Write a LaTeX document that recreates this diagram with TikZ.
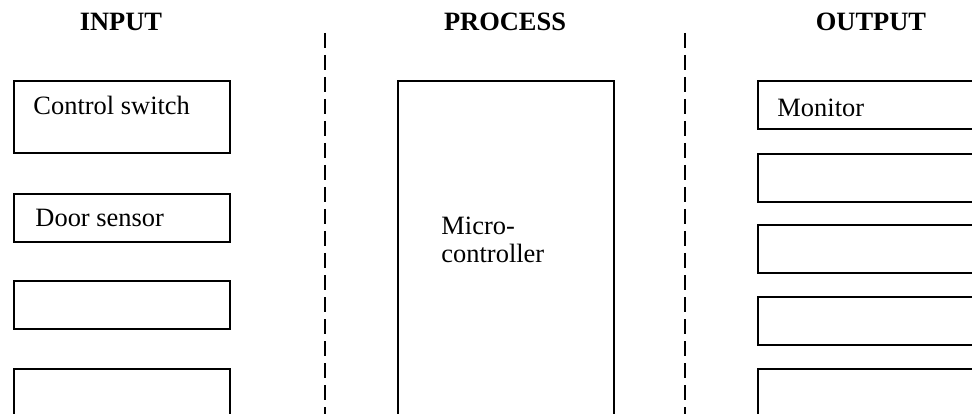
\documentclass[tikz,border=0pt]{standalone}
\usepackage{fontspec}
\setmainfont{Liberation Serif}
\usetikzlibrary{positioning}
\newcommand{\pxu}{0.45pt}
\tikzset{
  blk/.style={draw,line width=0.8pt,inner sep=0pt,anchor=north west},
  lbl/.style={anchor=base west,inner sep=0pt,font=\fontsize{11.9}{12.6}\selectfont},
  head/.style={anchor=base,inner sep=0pt,font=\fontsize{11.9}{12.6}\selectfont\bfseries},
  sepline/.style={line width=1pt,dash pattern=on 6.75pt off 3.15pt}
}
\begin{document}
\begin{tikzpicture}[x=\pxu,y=-\pxu]
  \clip (0,0) rectangle (972,414);
  % column headings
  \node[head] (hIn) at (121,31) {INPUT};
  \node[head] (hProc) at (505,31) {PROCESS};
  \node[head] (hOut) at (871,31) {OUTPUT};
  % dashed separators
  \coordinate (sepAtop) at (325,33);
  \coordinate (sepAbot) at (325,430);
  \coordinate (sepBtop) at (685,33);
  \coordinate (sepBbot) at (685,430);
  \draw[sepline] (sepAtop) -- (sepAbot);
  \draw[sepline] (sepBtop) -- (sepBbot);
  % input side
  \node[blk,minimum width=216*\pxu,minimum height=72*\pxu] (inA) at (13,80) {};
  \node[blk,minimum width=216*\pxu,minimum height=48*\pxu] (inB) at (13,193) {};
  \node[blk,minimum width=216*\pxu,minimum height=48*\pxu] (inC) at (13,280) {};
  \node[blk,minimum width=216*\pxu,minimum height=70*\pxu] (inD) at (13,368) {};
  \node[lbl] (tSwitch) at (33,115) {Control switch};
  \node[lbl] (tDoor) at (35,227) {Door sensor};
  % process
  \node[blk,minimum width=216*\pxu,minimum height=360*\pxu] (mcu) at (397,80) {};
  \node[lbl] (tMicro) at (441,235) {Micro-};
  \node[lbl] (tCtrl) at (441,263) {controller};
  % output side
  \node[blk,minimum width=220*\pxu,minimum height=48*\pxu] (outA) at (757,80) {};
  \node[blk,minimum width=220*\pxu,minimum height=48*\pxu] (outB) at (757,153) {};
  \node[blk,minimum width=220*\pxu,minimum height=48*\pxu] (outC) at (757,224) {};
  \node[blk,minimum width=220*\pxu,minimum height=48*\pxu] (outD) at (757,296) {};
  \node[blk,minimum width=220*\pxu,minimum height=70*\pxu] (outE) at (757,368) {};
  \node[lbl] (tMon) at (777,117) {Monitor};
\end{tikzpicture}
\end{document}
